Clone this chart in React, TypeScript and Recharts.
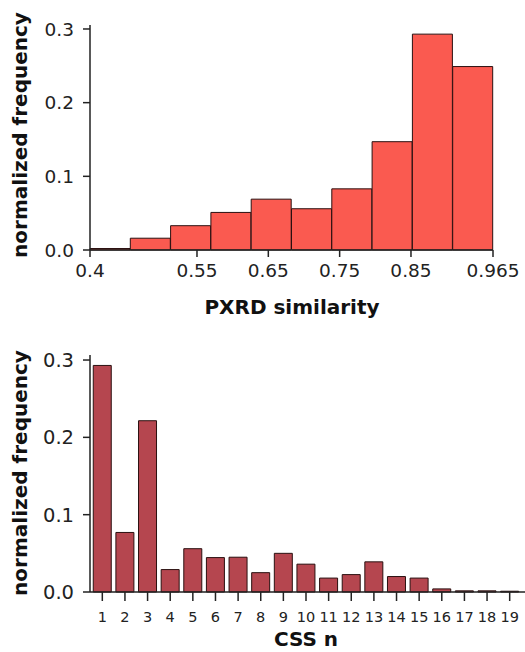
import { Bar, BarChart, XAxis, YAxis } from "recharts";

const pxrdBinCenters = [0.42825, 0.48475, 0.54125, 0.59775, 0.65425, 0.71075, 0.76725, 0.82375, 0.88025, 0.93675];
const pxrdFreq = [0.002, 0.016, 0.033, 0.051, 0.069, 0.056, 0.083, 0.147, 0.293, 0.249];
const pxrdTicks = [0.4, 0.55, 0.65, 0.75, 0.85, 0.965];

const cssN = ["1", "2", "3", "4", "5", "6", "7", "8", "9", "10", "11", "12", "13", "14", "15", "16", "17", "18", "19"];
const cssFreq = [0.293, 0.077, 0.2215, 0.029, 0.056, 0.0445, 0.045, 0.025, 0.05, 0.036, 0.018, 0.0225, 0.039, 0.02, 0.018, 0.004, 0.0015, 0.0015, 0.001];

const freqTicks = [0, 0.1, 0.2, 0.3];

const pxrdData = pxrdBinCenters.map((x, i) => ({ x, freq: pxrdFreq[i] }));
const cssData = cssN.map((n, i) => ({ n, freq: cssFreq[i] }));

const font = "'DejaVu Sans', sans-serif";
const ink = "#222";
const axisLine = { stroke: ink, strokeWidth: 1.5 };

function AxisTitle({ x, y, text, rotate }: { x: number; y: number; text: string; rotate?: boolean }) {
  return (
    <text
      x={x}
      y={y}
      textAnchor="middle"
      dominantBaseline="central"
      transform={rotate ? `rotate(-90, ${x}, ${y})` : undefined}
      style={{ fontFamily: font, fontWeight: 700, fontSize: 20, fill: "#111" }}
    >
      {text}
    </text>
  );
}

export default function App() {
  return (
    <div style={{ position: "absolute", left: 0, top: 0, width: 525, height: 652, background: "#fff" }}>
      <div style={{ position: "absolute", left: 0, top: 0 }}>
        <BarChart width={525} height={320} data={pxrdData} margin={{ top: 25, right: 32, bottom: 30, left: 30 }} barCategoryGap={0}>
          <XAxis
            dataKey="x"
            type="number"
            domain={[0.4, 0.965]}
            ticks={pxrdTicks}
            tickFormatter={(v) => String(v)}
            height={40}
            axisLine={axisLine}
            tickLine={axisLine}
            tickSize={7}
            tickMargin={7}
            tick={{ fontFamily: font, fontSize: 18.5, fill: ink }}
            label={() => <AxisTitle x={292} y={307} text="PXRD similarity" />}
          />
          <YAxis
            domain={[0, 0.3054]}
            ticks={freqTicks}
            tickFormatter={(v) => Number(v).toFixed(1)}
            width={60}
            axisLine={axisLine}
            tickLine={axisLine}
            tickSize={7}
            tickMargin={9}
            tick={{ fontFamily: font, fontSize: 18.5, fill: ink }}
            label={() => <AxisTitle x={20} y={135} text="normalized frequency" rotate />}
          />
          <Bar dataKey="freq" fill="#FA5A50" stroke="#2a1010" strokeWidth={1} isAnimationActive={false} />
        </BarChart>
      </div>
      <div style={{ position: "absolute", left: 0, top: 340 }}>
        <BarChart width={525} height={312} data={cssData} margin={{ top: 15, right: 0, bottom: 20, left: 30 }} barCategoryGap="10%">
          <XAxis
            dataKey="n"
            padding={{ left: 1, right: 4 }}
            height={40}
            interval={0}
            axisLine={axisLine}
            tickLine={axisLine}
            tickSize={9}
            tickMargin={11}
            tick={{ fontFamily: font, fontSize: 14.5, fill: ink }}
            label={() => <AxisTitle x={306} y={299} text="CSS n" />}
          />
          <YAxis
            domain={[0, 0.3065]}
            ticks={freqTicks}
            tickFormatter={(v) => Number(v).toFixed(1)}
            width={60}
            axisLine={axisLine}
            tickLine={axisLine}
            tickSize={7}
            tickMargin={9}
            tick={{ fontFamily: font, fontSize: 19.5, fill: ink }}
            label={() => <AxisTitle x={20} y={133} text="normalized frequency" rotate />}
          />
          <Bar dataKey="freq" fill="#B5464F" stroke="#2a1010" strokeWidth={1} isAnimationActive={false} />
        </BarChart>
      </div>
    </div>
  );
}
